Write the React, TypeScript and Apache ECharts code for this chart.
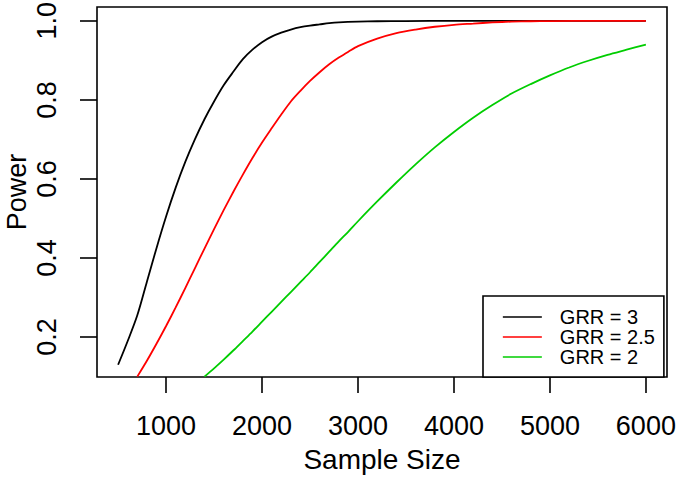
import React, { useEffect, useRef } from "react";
import * as echarts from "echarts";

const xTickValues = [1000, 2000, 3000, 4000, 5000, 6000];
const yTickValues = [0.2, 0.4, 0.6, 0.8, 1.0];

const seriesNames = ["GRR = 3", "GRR = 2.5", "GRR = 2"];
const seriesColors = ["#000000", "#FF0000", "#00CD00"];

const grr3Size = [500, 600, 700, 800, 900, 1000, 1100, 1200, 1300, 1400, 1500, 1600, 1700, 1800, 1900, 2000, 2100, 2200, 2300, 2400, 2500, 2600, 2700, 2800, 3000, 3200, 3500, 4000, 5000, 6000];
const grr3Power = [0.13, 0.19, 0.255, 0.34, 0.425, 0.505, 0.578, 0.643, 0.7, 0.751, 0.796, 0.837, 0.871, 0.903, 0.927, 0.946, 0.96, 0.97, 0.978, 0.984, 0.988, 0.991, 0.994, 0.996, 0.998, 0.999, 0.9995, 1, 1, 1];

const grr25Size = [700, 800, 900, 1000, 1100, 1200, 1300, 1400, 1500, 1600, 1700, 1800, 1900, 2000, 2100, 2200, 2300, 2400, 2500, 2600, 2700, 2800, 2900, 3000, 3200, 3400, 3600, 3800, 4000, 4200, 4400, 4600, 4800, 5000, 5500, 6000];
const grr25Power = [0.1, 0.14, 0.183, 0.228, 0.275, 0.324, 0.374, 0.424, 0.473, 0.521, 0.567, 0.611, 0.653, 0.692, 0.728, 0.763, 0.796, 0.823, 0.848, 0.87, 0.89, 0.907, 0.922, 0.936, 0.955, 0.969, 0.978, 0.985, 0.99, 0.993, 0.996, 0.998, 0.999, 0.9995, 1, 1];

const grr2Size = [1400, 1500, 1600, 1700, 1800, 1900, 2000, 2100, 2200, 2300, 2400, 2500, 2600, 2700, 2800, 2900, 3000, 3200, 3400, 3600, 3800, 4000, 4200, 4400, 4600, 4800, 5000, 5200, 5400, 5600, 5800, 6000];
const grr2Power = [0.1, 0.121, 0.143, 0.166, 0.19, 0.214, 0.239, 0.264, 0.289, 0.314, 0.339, 0.364, 0.39, 0.416, 0.442, 0.467, 0.493, 0.543, 0.591, 0.637, 0.68, 0.719, 0.755, 0.787, 0.816, 0.84, 0.862, 0.882, 0.899, 0.914, 0.927, 0.94];

const FONT = "'Liberation Sans', Arial, sans-serif";

function pairs(xs: number[], ys: number[]) {
  return xs.map((x, i) => [x, ys[i]]);
}

export default function App() {
  const ref = useRef<HTMLDivElement>(null);
  useEffect(() => {
    if (!ref.current) return;
    const chart = echarts.init(ref.current, undefined, { renderer: "svg" });
    const datasets = [pairs(grr3Size, grr3Power), pairs(grr25Size, grr25Power), pairs(grr2Size, grr2Power)];
    chart.setOption({
      animation: false,
      backgroundColor: "#ffffff",
      grid: {
        left: 97,
        top: 7,
        right: 13,
        bottom: 104,
        show: true,
        containLabel: false,
        outerBoundsMode: "none",
        borderColor: "#000",
        borderWidth: 1.6,
        backgroundColor: "transparent",
      },
      xAxis: {
        type: "value",
        min: 280,
        max: 6220,
        name: "Sample Size",
        nameLocation: "middle",
        nameGap: 68,
        nameMoveOverlap: false,
        nameTextStyle: { fontFamily: FONT, fontSize: 28, color: "#000" },
        axisLine: { show: false },
        splitLine: { show: false },
        axisTick: {
          show: true,
          inside: false,
          length: 16,
          customValues: xTickValues,
          lineStyle: { color: "#000", width: 1.6 },
        },
        axisLabel: {
          customValues: xTickValues,
          fontFamily: FONT,
          fontSize: 27,
          color: "#000",
          margin: 35,
          formatter: (v: number) => String(v),
        },
      },
      yAxis: {
        type: "value",
        min: 0.099,
        max: 1.035,
        name: "Power",
        nameLocation: "middle",
        nameRotate: 90,
        nameGap: 67,
        nameMoveOverlap: false,
        nameTextStyle: { fontFamily: FONT, fontSize: 27, color: "#000" },
        axisLine: { show: false },
        splitLine: { show: false },
        axisTick: {
          show: true,
          inside: false,
          length: 17,
          customValues: yTickValues,
          lineStyle: { color: "#000", width: 1.6 },
        },
        axisLabel: {
          customValues: yTickValues,
          rotate: 90,
          fontFamily: FONT,
          fontSize: 27,
          color: "#000",
          margin: 37,
          formatter: (v: number) => v.toFixed(1),
        },
      },
      legend: {
        show: true,
        orient: "vertical",
        left: 483,
        top: 296,
        selectedMode: false,
        backgroundColor: "#fff",
        borderColor: "#000",
        borderWidth: 1.6,
        borderRadius: 0,
        padding: [11, 9, 10, 19],
        itemWidth: 39,
        itemHeight: 20,
        itemGap: 0,
        data: seriesNames,
        itemStyle: { opacity: 0 },
        lineStyle: { width: 1.7 },
        textStyle: {
          fontFamily: FONT,
          fontSize: 20,
          color: "#000",
          lineHeight: 20,
          padding: [0, 0, 0, 13],
        },
      },
      series: seriesNames.map((name, i) => ({
        name,
        type: "line",
        data: datasets[i],
        symbol: "none",
        smooth: 0.3,
        clip: true,
        color: seriesColors[i],
        lineStyle: { color: seriesColors[i], width: 1.8 },
      })),
    });
    return () => chart.dispose();
  }, []);
  return (
    <div
      ref={ref}
      style={{ position: "fixed", left: 0, top: 0, width: 680, height: 481, background: "#fff" }}
    />
  );
}
